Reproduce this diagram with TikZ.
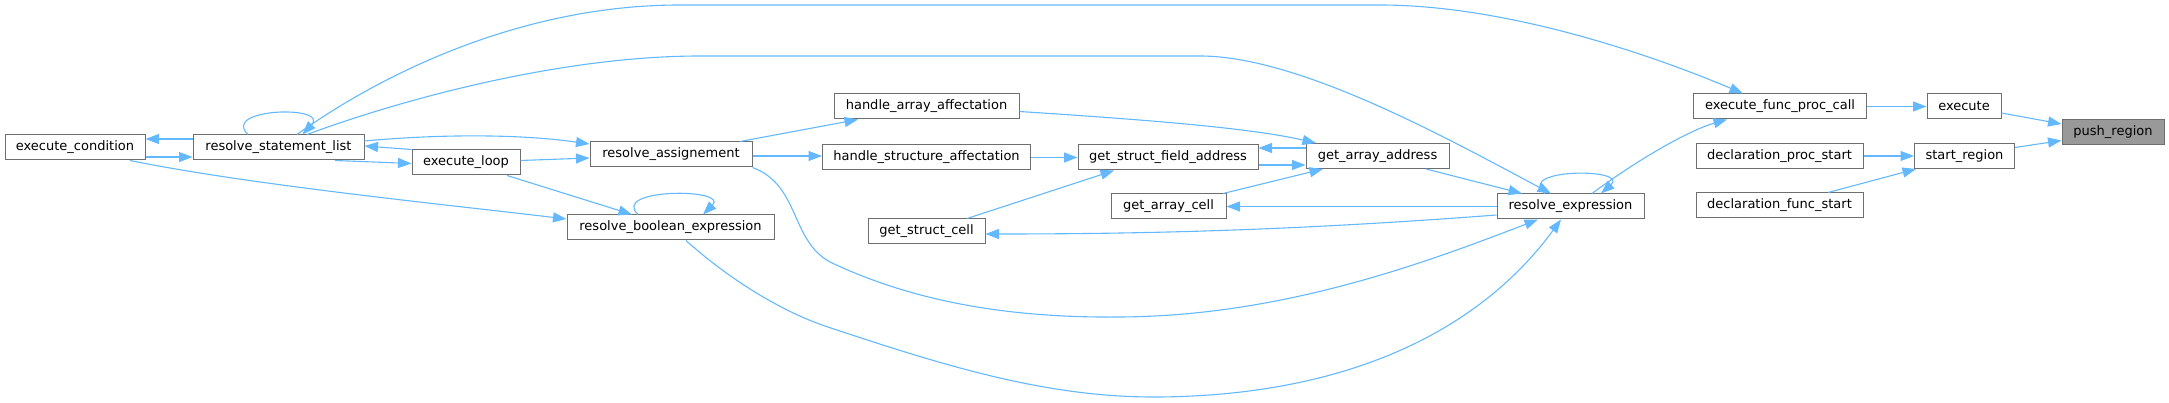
\documentclass[tikz,border=0pt]{standalone}
\usepackage{fontspec}
\setmainfont{DejaVu Sans}
\usetikzlibrary{arrows.meta}
\definecolor{edgeblue}{RGB}{99,184,255}
\definecolor{boxgray}{RGB}{110,110,110}
\definecolor{focusgray}{RGB}{153,153,153}
\begin{document}
\begin{tikzpicture}[x=1pt,y=-1pt,
  fn/.style={draw=boxgray, line width=1pt, fill=white, rectangle, inner sep=0pt,
    minimum height=25pt, font=\fontsize{13}{15}\selectfont, text=black, anchor=center},
  focus/.style={fn, fill=focusgray},
  edge/.style={draw=edgeblue, line width=1.1pt, -{Triangle[length=13.5pt,width=10pt]}},
  ]
\useasboundingbox (0,0) rectangle (2169,403);

% nodes
\node[fn, minimum width=140pt] (ec)   at (75,147.5)   {execute\_condition};
\node[fn, minimum width=171pt] (rsl)  at (278.5,147.5) {resolve\_statement\_list};
\node[fn, minimum width=108pt] (el)   at (466,162.5)  {execute\_loop};
\node[fn, minimum width=162pt] (ra)   at (671,154.5)  {resolve\_assignement};
\node[fn, minimum width=207pt] (rbe)  at (670.5,227.5) {resolve\_boolean\_expression};
\node[fn, minimum width=185pt] (haa)  at (926.5,106.5) {handle\_array\_affectation};
\node[fn, minimum width=208pt] (hsa)  at (926.5,157.5) {handle\_structure\_affectation};
\node[fn, minimum width=117pt] (gsc)  at (926.5,231.5) {get\_struct\_cell};
\node[fn, minimum width=180pt] (gsfa) at (1168,157.5) {get\_struct\_field\_address};
\node[fn, minimum width=115pt] (gac)  at (1168.5,206.5) {get\_array\_cell};
\node[fn, minimum width=143pt] (gaa)  at (1377.5,156) {get\_array\_address};
\node[fn, minimum width=147pt] (re)   at (1570.5,206.5) {resolve\_expression};
\node[fn, minimum width=173pt] (efpc) at (1780,106.5) {execute\_func\_proc\_call};
\node[fn, minimum width=167pt] (dps)  at (1779.5,156) {declaration\_proc\_start};
\node[fn, minimum width=167pt] (dfs)  at (1779.5,205.5) {declaration\_func\_start};
\node[fn, minimum width=74pt]  (ex)   at (1964,106.5) {execute};
\node[fn, minimum width=100pt] (sr)   at (1964.5,156) {start\_region};
\node[focus, minimum width=102pt] (pr) at (2113,132) {push\_region};

% edges
\draw[edge] ([yshift=-6.5pt]ex.east) -- ([yshift=8pt]pr.west);
\draw[edge] ([yshift=8.5pt]sr.east) -- ([yshift=-8.5pt]pr.west);
\draw[edge] (efpc.east) -- (ex.west);
\draw[edge] (dps.east) -- (sr.west);
\draw[edge] ([xshift=48.5pt]dfs.north) -- ([xshift=2pt]sr.south west);
\draw[edge] ([xshift=21.5pt]re.north) .. controls (1640,158) and (1690,130) .. ([xshift=-53pt]efpc.south);
\draw[edge] ([xshift=-25.5pt]re.north) .. controls (1515,168) and (1630,168) .. ([xshift=30.5pt]re.north);
\draw[edge] ([xshift=48.5pt]gaa.south) -- ([xshift=-48.5pt]re.north);
\draw[edge] ([xshift=28.5pt]rsl.north) .. controls (400,100) and (560,56) .. (700,56) -- (1200,56)
   .. controls (1300,56) and (1450,140) .. ([xshift=-19.5pt]re.north);
\draw[edge] ([xshift=18.5pt]rsl.north) .. controls (380,75) and (520,5) .. (680,5) -- (1380,5)
   .. controls (1500,5) and (1640,50) .. ([xshift=-37pt]efpc.north);
\draw[edge] ([xshift=-30.5pt]rsl.north) .. controls (220,108) and (330,105) .. ([xshift=24pt]rsl.north);
\draw[edge] ([yshift=8.5pt]rsl.west) -- ([yshift=8.5pt]ec.east);
\draw[edge] ([yshift=-9.5pt]ec.east) -- ([yshift=-9.5pt]rsl.west);
\draw[edge] (el.north west) -- ([yshift=1.5pt]rsl.east);
\draw[edge] ([xshift=56.5pt]rsl.south) -- ([yshift=-1pt]el.west);
\draw[edge] ([yshift=6.5pt]rsl.east) .. controls (440,134) and (520,134) .. ([yshift=10.5pt]ra.west);
\draw[edge] ([yshift=2pt]el.east) -- ([yshift=-3.5pt]ra.west);
\draw[edge] ([xshift=41pt]el.south) -- ([xshift=-38.5pt]rbe.north);
\draw[edge] ([xshift=55pt]ec.south) .. controls (250,185) and (450,205) .. ([yshift=8.5pt]rbe.west);
\draw[edge] ([xshift=-32.5pt]rbe.north) .. controls (610,188) and (730,188) .. ([xshift=32.5pt]rbe.north);
\draw[edge] ([xshift=69pt]ra.north) -- ([xshift=-68.5pt]haa.south);
\draw[edge] ([yshift=-1.5pt]ra.east) -- ([yshift=1.5pt]hsa.west);
\draw[edge] (hsa.east) -- (gsfa.west);
\draw[edge] ([yshift=-5pt]haa.east) .. controls (1150,120) and (1250,128) .. ([xshift=-61.5pt]gaa.north);
\draw[edge] ([yshift=8pt]gaa.west) -- ([yshift=9.5pt]gsfa.east);
\draw[edge] ([yshift=-7.5pt]gsfa.east) -- ([yshift=-9pt]gaa.west);
\draw[edge] ([xshift=40.5pt]gsc.north) -- ([xshift=-54pt]gsfa.south);
\draw[edge] ([xshift=54.5pt]gac.north) -- ([xshift=-54.5pt]gaa.south);
\draw[edge] (re.west) -- (gac.east);
\draw[edge] ([yshift=-8.5pt]re.west) .. controls (1300,230) and (1150,234) .. ([yshift=-2.5pt]gsc.east);
\draw[edge] (ra.south east) .. controls (800,185) and (790,240) .. (830,262)
   .. controls (920,305) and (1020,318) .. (1120,317)
   .. controls (1280,316) and (1420,265) .. ([xshift=-32.5pt]re.south);
\draw[edge] ([xshift=15.5pt]rbe.south) .. controls (730,280) and (780,310) .. (822,325)
   .. controls (950,368) and (1050,398) .. (1160,397)
   .. controls (1350,395) and (1480,330) .. ([xshift=-9.5pt]re.south);
\end{tikzpicture}
\end{document}
